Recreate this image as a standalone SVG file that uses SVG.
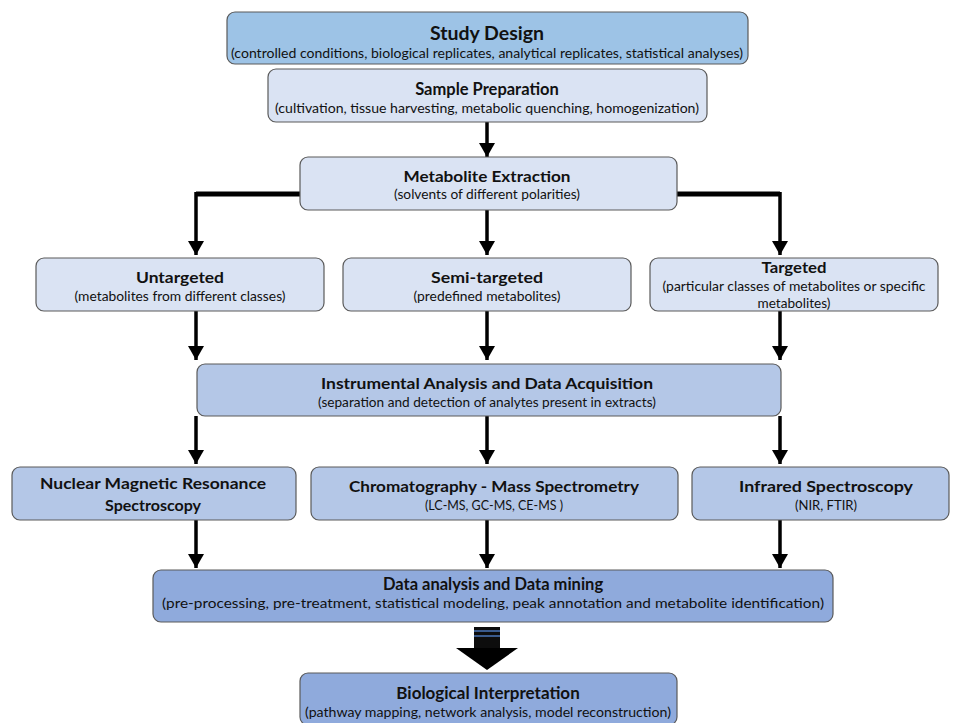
<svg xmlns="http://www.w3.org/2000/svg" width="963" height="723" viewBox="0 0 963 723">
<style>
.box{stroke:#5a5a5a;stroke-width:1.2}
.c1{fill:#9dc3e6}.c2{fill:#dae3f3}.c3{fill:#b4c7e7}.c4{fill:#8faadc}
.t{font-family:Lato,"Open Sans",sans-serif;font-weight:bold;fill:#111;text-anchor:middle}
.s{font-family:Lato,"Open Sans",sans-serif;fill:#111;text-anchor:middle}
.ln{fill:none;stroke:#000;stroke-width:3.5}
.hz{fill:none;stroke:#000;stroke-width:5}
</style>
<defs>
<marker id="ad" markerUnits="userSpaceOnUse" markerWidth="14" markerHeight="16" refX="14" refY="8" orient="auto" viewBox="0 0 14 16">
<path d="M0,0 L14,8 L0,16 Z" fill="#000"/>
</marker>
</defs>
<g id="connectors">
<path class="ln" d="M487,122 V157" marker-end="url(#ad)"/>
<path class="hz" d="M300,194 H196"/>
<path class="ln" d="M196,192 V255" marker-end="url(#ad)"/>
<path class="hz" d="M677,194 H780"/>
<path class="ln" d="M780,192 V255" marker-end="url(#ad)"/>
<path class="ln" d="M487,210 V255" marker-end="url(#ad)"/>
<path class="ln" d="M196,311 V360" marker-end="url(#ad)"/>
<path class="ln" d="M487,311 V360" marker-end="url(#ad)"/>
<path class="ln" d="M780,311 V360" marker-end="url(#ad)"/>
<path class="ln" d="M196,416 V464" marker-end="url(#ad)"/>
<path class="ln" d="M487,416 V464" marker-end="url(#ad)"/>
<path class="ln" d="M780,416 V464" marker-end="url(#ad)"/>
<path class="ln" d="M196,520 V568" marker-end="url(#ad)"/>
<path class="ln" d="M487,520 V568" marker-end="url(#ad)"/>
<path class="ln" d="M780,520 V568" marker-end="url(#ad)"/>
<g id="fat-arrow">
<rect x="474" y="627" width="26" height="22" fill="#0d0d0d"/>
<rect x="474" y="630" width="26" height="2" fill="#3a5a8c"/>
<rect x="474" y="635" width="26" height="2" fill="#3a5a8c"/>
<path d="M456,648 H518 L487,670 Z" fill="#000"/>
</g>
</g>
<g id="study-design">
<rect class="box c1" x="227" y="12" width="521" height="52" rx="8"/>
<text class="t" x="487" y="40" font-size="19.5">Study Design</text>
<text class="s" x="487" y="58" font-size="14" textLength="512" lengthAdjust="spacingAndGlyphs">(controlled conditions, biological replicates, analytical replicates, statistical analyses)</text>
</g>
<g id="sample-preparation">
<rect class="box c2" x="268" y="69" width="439" height="53" rx="8"/>
<text class="t" x="487" y="95" font-size="16.5">Sample Preparation</text>
<text class="s" x="487" y="113" font-size="14" textLength="424" lengthAdjust="spacingAndGlyphs">(cultivation, tissue harvesting, metabolic quenching, homogenization)</text>
</g>
<g id="metabolite-extraction">
<rect class="box c2" x="300" y="157" width="377" height="53" rx="8"/>
<text class="t" x="487" y="182" font-size="16" textLength="167" lengthAdjust="spacingAndGlyphs">Metabolite Extraction</text>
<text class="s" x="487" y="199" font-size="12.5" textLength="186" lengthAdjust="spacingAndGlyphs">(solvents of different polarities)</text>
</g>
<g id="untargeted">
<rect class="box c2" x="36" y="258" width="288" height="53" rx="8"/>
<text class="t" x="180" y="283" font-size="16" textLength="88" lengthAdjust="spacingAndGlyphs">Untargeted</text>
<text class="s" x="180" y="301" font-size="12.5" textLength="211" lengthAdjust="spacingAndGlyphs">(metabolites from different classes)</text>
</g>
<g id="semi-targeted">
<rect class="box c2" x="343" y="258" width="288" height="53" rx="8"/>
<text class="t" x="487" y="283" font-size="16" textLength="112" lengthAdjust="spacingAndGlyphs">Semi-targeted</text>
<text class="s" x="487" y="301" font-size="12.5" textLength="147" lengthAdjust="spacingAndGlyphs">(predefined metabolites)</text>
</g>
<g id="targeted">
<rect class="box c2" x="650" y="258" width="288" height="53" rx="8"/>
<text class="t" x="794" y="273" font-size="16" textLength="65" lengthAdjust="spacingAndGlyphs">Targeted</text>
<text class="s" x="794" y="291" font-size="12.5" textLength="263" lengthAdjust="spacingAndGlyphs">(particular classes of metabolites or specific</text>
<text class="s" x="794" y="308" font-size="12.5" textLength="73" lengthAdjust="spacingAndGlyphs">metabolites)</text>
</g>
<g id="instrumental-analysis">
<rect class="box c3" x="197" y="364" width="584" height="52" rx="8"/>
<text class="t" x="487" y="389" font-size="16" textLength="332" lengthAdjust="spacingAndGlyphs">Instrumental Analysis and Data Acquisition</text>
<text class="s" x="487" y="407" font-size="12.5" textLength="338" lengthAdjust="spacingAndGlyphs">(separation and detection of analytes present in extracts)</text>
</g>
<g id="nmr">
<rect class="box c3" x="12" y="467" width="284" height="53" rx="8"/>
<text class="t" x="153" y="489" font-size="16" textLength="226" lengthAdjust="spacingAndGlyphs">Nuclear Magnetic Resonance</text>
<text class="t" x="153" y="511" font-size="16" textLength="96" lengthAdjust="spacingAndGlyphs">Spectroscopy</text>
</g>
<g id="chromatography-ms">
<rect class="box c3" x="311" y="467" width="367" height="53" rx="8"/>
<text class="t" x="494" y="492" font-size="16" textLength="290" lengthAdjust="spacingAndGlyphs">Chromatography - Mass Spectrometry</text>
<text class="s" x="494" y="510" font-size="12.5" textLength="138" lengthAdjust="spacingAndGlyphs">(LC-MS, GC-MS, CE-MS )</text>
</g>
<g id="infrared">
<rect class="box c3" x="692" y="467" width="257" height="53" rx="8"/>
<text class="t" x="826" y="492" font-size="16" textLength="174" lengthAdjust="spacingAndGlyphs">Infrared Spectroscopy</text>
<text class="s" x="826" y="510" font-size="12.5" textLength="62" lengthAdjust="spacingAndGlyphs">(NIR, FTIR)</text>
</g>
<g id="data-analysis">
<rect class="box c4" x="153" y="570" width="680" height="52" rx="8"/>
<text class="t" x="493" y="590" font-size="16.5">Data analysis and Data mining</text>
<text class="s" x="493" y="608" font-size="14" textLength="662" lengthAdjust="spacingAndGlyphs">(pre-processing, pre-treatment, statistical modeling, peak annotation and metabolite identification)</text>
</g>
<g id="biological-interpretation">
<rect class="box c4" x="300" y="673" width="377" height="52" rx="8"/>
<text class="t" x="488" y="699" font-size="17">Biological Interpretation</text>
<text class="s" x="488" y="717" font-size="14" textLength="366" lengthAdjust="spacingAndGlyphs">(pathway mapping, network analysis, model reconstruction)</text>
</g>
</svg>
